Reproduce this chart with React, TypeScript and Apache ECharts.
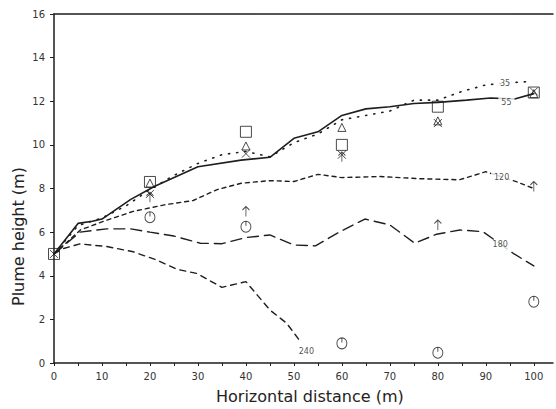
import React, { useEffect, useRef } from "react";
import * as echarts from "echarts";

// ---- Data ----
const line55: number[][] = [
  [0, 5], [5, 6.4], [8, 6.5], [10, 6.6], [16, 7.5], [21, 8.1], [30, 9.0], [39, 9.3],
  [45, 9.43], [50, 10.3], [55, 10.6], [60, 11.35], [65, 11.65], [70, 11.75], [75, 11.9],
  [80, 11.95], [86, 12.05], [91, 12.15], [96, 12.1], [100, 12.35],
];
const line35: number[][] = [
  [0, 5], [5, 6.3], [10, 6.65], [15, 7.2], [20, 7.95], [25, 8.6], [30, 9.15], [35, 9.55],
  [40, 9.7], [45, 9.45], [50, 10.1], [55, 10.5], [60, 11.15], [65, 11.35], [70, 11.55],
  [75, 12.05], [80, 12.05], [85, 12.45], [90, 12.75], [95, 12.85], [99, 12.9],
];
const line120: number[][] = [
  [0, 5.0], [4, 5.8], [5.5, 6.1], [11, 6.55], [16.5, 6.95], [23, 7.25], [29, 7.45],
  [34, 7.95], [39, 8.24], [45, 8.36], [50, 8.32], [55, 8.65], [60, 8.5], [68, 8.55],
  [76, 8.45], [84.5, 8.4], [90, 8.77], [96.5, 8.3], [100, 8.0],
];
const line180: number[][] = [
  [0, 5], [5.4, 6.0], [11, 6.15], [16, 6.15], [20, 6.0], [25, 5.82], [30.5, 5.49],
  [35, 5.47], [40, 5.75], [45, 5.87], [50, 5.41], [54.5, 5.37], [59.6, 6.02], [64.8, 6.6],
  [70, 6.33], [75.2, 5.49], [79.7, 5.9], [84.6, 6.1], [89.4, 6.02], [95.7, 5.03], [100, 4.45],
];
const line240: number[][] = [
  [0, 5], [2, 5.25], [5.4, 5.46], [11, 5.34], [16.5, 5.1], [21.4, 4.72], [25.6, 4.3],
  [29.7, 4.11], [35, 3.47], [40, 3.73], [45, 2.43], [48.5, 1.82], [51.3, 1.0],
];

const squareX = [0, 20, 40, 60, 80, 100];
const squareY = [5.0, 8.3, 10.6, 10.0, 11.75, 12.4];
const triangleX = [20, 40, 60, 80, 100];
const triangleY = [8.25, 9.95, 10.8, 11.1, 12.35];
const crossX = [0, 20, 40, 60, 80, 100];
const crossY = [5.0, 7.75, 9.6, 9.55, 11.0, 12.45];
const arrowX = [20, 40, 60, 80, 100];
const arrowY = [7.6, 6.95, 9.45, 6.33, 8.09];
const circleX = [20, 40, 60, 80, 100];
const circleY = [6.68, 6.25, 0.9, 0.47, 2.81];

const curveLabels = ["35", "55", "120", "180", "240"];
const curveLabelX = [94, 94.3, 93.3, 93, 52.6];
const curveLabelY = [12.83, 11.96, 8.52, 5.41, 0.52];

const xTickLabels = [0, 10, 20, 30, 40, 50, 60, 70, 80, 90, 100];
const xTicks = [0, 5, 10, 15, 20, 25, 30, 35, 40, 45, 50, 55, 60, 65, 70, 75, 80, 85, 90, 95, 100];

const INK = "#1e1e1e";
const FONT = "'DejaVu Sans', sans-serif";

function pairs(xs: number[], ys: number[]) {
  return xs.map((x, i) => [x, ys[i]]);
}

const markerStyle = { color: "rgba(0,0,0,0)", borderColor: INK, borderWidth: 1 };

export default function App() {
  const ref = useRef<HTMLDivElement>(null);
  useEffect(() => {
    if (!ref.current) return;
    const chart = echarts.init(ref.current, null, { renderer: "svg" });
    const lineSeries = (data: number[][], type: any, width = 1.3) => ({
      type: "line",
      data,
      symbol: "none",
      smooth: false,
      lineStyle: { color: INK, width, type, cap: "round" },
      z: 2,
    });
    chart.setOption({
      animation: false,
      backgroundColor: "#fff",
      grid: { left: 54, right: 3, top: 14, bottom: 46, containLabel: false },
      xAxis: [
        {
          type: "value",
          min: 0,
          max: 104,
          axisLine: { show: true, lineStyle: { color: INK, width: 1.5 } },
          axisTick: { show: true, length: 3, lineStyle: { color: INK }, customValues: xTicks },
          axisLabel: {
            customValues: xTickLabels,
            color: "#333",
            fontFamily: FONT,
            fontSize: 10,
            margin: 8,
          },
          splitLine: { show: false },
        },
        {
          type: "value",
          position: "top",
          min: 0,
          max: 104,
          axisLine: { show: true, onZero: false, lineStyle: { color: INK, width: 1.5 } },
          axisTick: { show: false },
          axisLabel: { show: false },
          splitLine: { show: false },
        },
      ],
      yAxis: {
        type: "value",
        min: 0,
        max: 16,
        interval: 2,
        axisLine: { show: true, lineStyle: { color: INK, width: 1.5 } },
        axisTick: { show: true, length: 4, lineStyle: { color: INK } },
        axisLabel: { color: "#333", fontFamily: FONT, fontSize: 10, margin: 9 },
        splitLine: { show: false },
      },
      series: [
        lineSeries(line55, "solid", 1.6),
        lineSeries(line35, [1.2, 7], 1.6),
        lineSeries(line120, [4, 4], 1.4),
        lineSeries(line180, [11, 6], 1.4),
        lineSeries(line240, [6, 5], 1.4),
        {
          type: "scatter",
          data: pairs(squareX, squareY),
          symbol: "rect",
          symbolSize: 11,
          itemStyle: markerStyle,
          z: 3,
        },
        {
          type: "scatter",
          data: pairs(triangleX, triangleY),
          symbol: "triangle",
          symbolSize: [8, 8],
          itemStyle: markerStyle,
          z: 3,
        },
        {
          type: "scatter",
          data: pairs(crossX, crossY),
          symbol: "path://M0,0 L10,10 M10,0 L0,10",
          symbolSize: [8, 8],
          itemStyle: markerStyle,
          z: 3,
        },
        {
          type: "scatter",
          data: pairs(arrowX, arrowY),
          symbol: "path://M5,0 L5,14 M1,5 L5,0 L9,5",
          symbolSize: [7, 10],
          itemStyle: markerStyle,
          z: 3,
        },
        {
          type: "scatter",
          data: pairs(circleX, circleY),
          symbol: "path://M0,6 A6,6 0 1,0 12,6 A6,6 0 1,0 0,6 Z M6,0 L6,5",
          symbolSize: [10, 11],
          itemStyle: markerStyle,
          z: 3,
        },
        {
          type: "scatter",
          data: curveLabels.map((n, i) => ({ name: n, value: [curveLabelX[i], curveLabelY[i]] })),
          symbolSize: 0,
          z: 5,
          label: {
            show: true,
            position: "inside",
            formatter: (p: any) => p.name,
            color: INK,
            fontFamily: FONT,
            fontSize: 8,
            backgroundColor: "#fff",
            padding: [1, 3],
          },
        },
      ],
      graphic: [
        {
          type: "text",
          left: 216,
          top: 388,
          style: {
            text: "Horizontal distance (m)",
            fill: "#222",
            font: `16px ${FONT}`,
          },
        },
        {
          type: "text",
          x: 10,
          y: 306,
          rotation: Math.PI / 2,
          style: {
            text: "Plume height (m)",
            fill: "#222",
            font: `16px ${FONT}`,
            verticalAlign: "top",
          },
        },
      ],
    });
    return () => chart.dispose();
  }, []);
  return (
    <div
      ref={ref}
      style={{ position: "absolute", left: 0, top: 0, width: 556, height: 409 }}
    />
  );
}
